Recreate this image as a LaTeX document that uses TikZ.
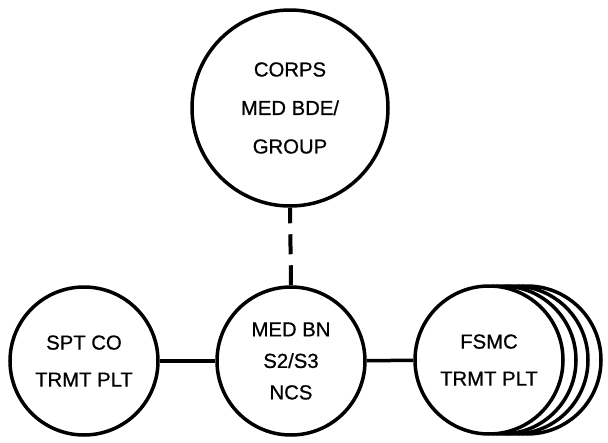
\documentclass[tikz,border=0pt]{standalone}
\usepackage{fontspec}
\setmainfont[FakeBold=0.7]{Liberation Sans}
\begin{document}
\begin{tikzpicture}[x=1pt,y=-1pt,
  unit/.style={circle,draw,line width=3.5pt,fill=white,inner sep=0pt,minimum size=148pt,align=center,font=\fontsize{20.3}{37}\selectfont},
  bigunit/.style={unit,minimum size=196pt,font=\fontsize{20.3}{38.5}\selectfont},
  link/.style={line width=3.5pt},
  dlink/.style={line width=4pt,dash pattern=on 20pt off 11pt}]
\useasboundingbox (0,0) rectangle (608,442);
\node[bigunit] (corps) at (290,108) {CORPS\\MED BDE/\\GROUP};
\node[unit,font=\fontsize{20.3}{31.5}\selectfont] (medbn) at (291,361) {MED BN\\S2/S3\\NCS};
\node[unit] (spt) at (84,361) {SPT CO\\TRMT PLT};
\node[unit] (back3) at (527,360) {};
\node[unit] (back2) at (514,360) {};
\node[unit] (back1) at (502,360) {};
\node[unit] (fsmc) at (489,360) {FSMC\\TRMT PLT};
\draw[dlink] (medbn.north) -- (corps.south);
\draw[link] (spt) -- (medbn);
\draw[link] (medbn) -- (fsmc);
\end{tikzpicture}
\end{document}
